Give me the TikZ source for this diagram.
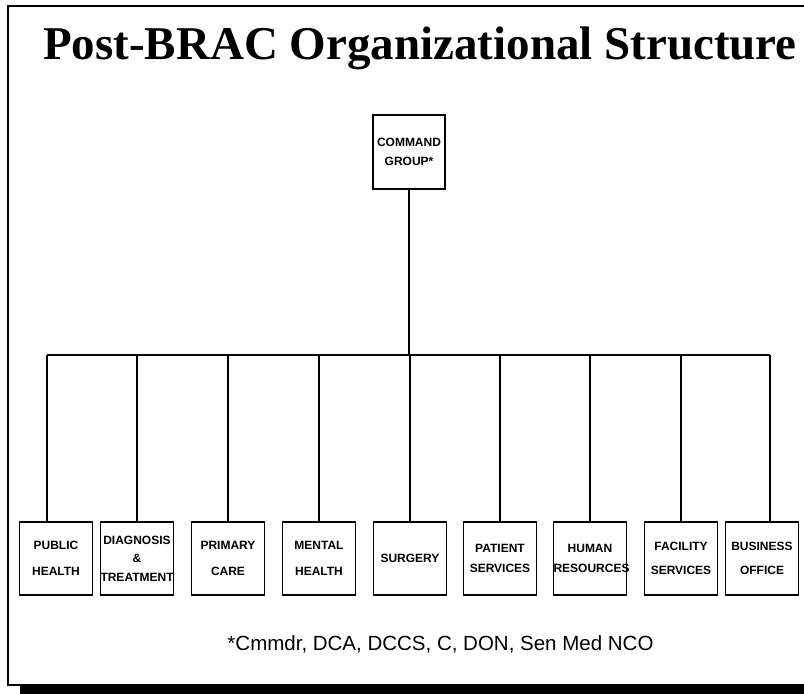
\documentclass[tikz,border=0pt]{standalone}
\usepackage{fontspec}
\setmainfont{Liberation Serif}
\setsansfont{Liberation Sans}
\usepackage{tikz}
\usetikzlibrary{positioning}
\tikzset{org-line/.style={line width=1.4pt}}
\tikzset{org-node/.style={draw, line width=1.3pt, inner sep=0, outer sep=0, minimum width=73pt, minimum height=73pt, text width=73pt, align=center, font=\fontsize{12}{19}\selectfont\sffamily\bfseries}}
\tikzset{org-head/.style={org-node, minimum width=72pt, minimum height=74pt, text width=72pt}}

\begin{document}
\begin{tikzpicture}[x=1pt, y=1pt]
            \useasboundingbox (0,0) rectangle (804,694);

            % frame with shadow
            \draw[line width=2pt] (804,688) -- (8,688) -- (8,9) -- (804,9);
            \fill (20,0) rectangle (804,8);

            \node[anchor=base, font=\fontsize{47}{56}\selectfont\bfseries] (title) at (420,634) {Post-BRAC Organizational Structure};

            \node[org-head] (cmd) at (409,542) {COMMAND\\GROUP*};

            \node[org-node] (ph) at (56,135.5) {PUBLIC\\[7pt]HEALTH};
            \node[org-node, right=8pt of ph] (dt) {DIAGNOSIS\\[-0.5pt]\&\\[-0.5pt]TREATMENT};
            \node[org-node, right=18pt of dt] (pc) {PRIMARY\\[7pt]CARE};
            \node[org-node, right=18pt of pc] (mh) {MENTAL\\[7pt]HEALTH};
            \node[org-node, right=18pt of mh] (su) {SURGERY};
            \node[org-node, right=17pt of su] (ps) {PATIENT\\[1pt]SERVICES};
            \node[org-node, right=17pt of ps] (hr) {HUMAN\\[1pt]RESOURCES};
            \node[org-node, right=18pt of hr] (fs) {FACILITY\\[5pt]SERVICES};
            \node[org-node, right=8pt of fs] (bo) {BUSINESS\\[5pt]OFFICE};

            \node[anchor=base, font=\fontsize{20.5}{24}\selectfont\sffamily] (note) at (440.5,43) {*Cmmdr, DCA, DCCS, C, DON, Sen Med NCO};

            % drop points on the bar
            \coordinate (ph-top) at ([xshift=-9pt]ph.north);
            \coordinate (bo-top) at ([xshift=8pt]bo.north);
            \coordinate (barL) at (ph-top |- 0,339);
            \coordinate (barR) at (bo-top |- 0,339);

            \draw[org-line] (barL) -- (barR);
            \draw[org-line] (cmd.south) -- (cmd.south |- barL);

            \draw[org-line] (barL) -- (ph-top);
            \draw[org-line] (dt.north |- barL) -- (dt.north);
            \draw[org-line] (pc.north |- barL) -- (pc.north);
            \draw[org-line] (mh.north |- barL) -- (mh.north);
            \draw[org-line] (su.north |- barL) -- (su.north);
            \draw[org-line] (ps.north |- barL) -- (ps.north);
            \draw[org-line] (hr.north |- barL) -- (hr.north);
            \draw[org-line] (fs.north |- barL) -- (fs.north);
            \draw[org-line] (barR) -- (bo-top);

        \end{tikzpicture}
\end{document}
